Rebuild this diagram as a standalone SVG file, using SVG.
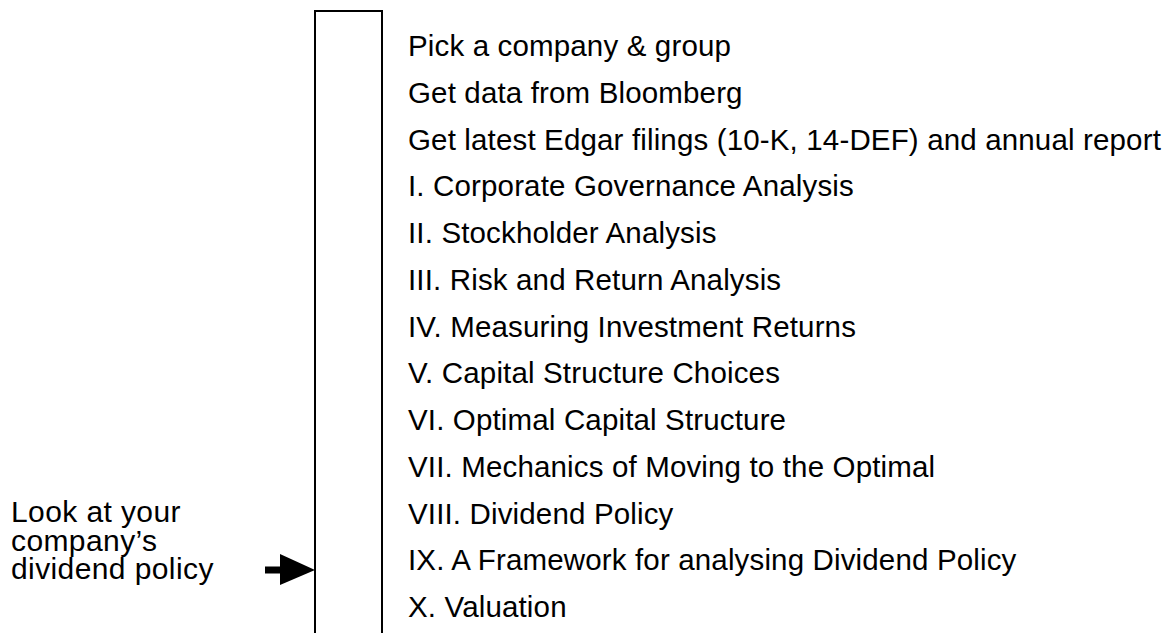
<svg xmlns="http://www.w3.org/2000/svg" width="1169" height="633" viewBox="0 0 1169 633">
<style>
.t{font-family:"Liberation Sans",Arial,Helvetica,sans-serif;font-size:29.5px;letter-spacing:0.15px;fill:#000}
.n{font-family:"Liberation Sans",Arial,Helvetica,sans-serif;font-size:30px;letter-spacing:0.4px;fill:#000}
.box{fill:none;stroke:#000;stroke-width:2}
</style>
<rect width="1169" height="633" fill="#fff"/>
<g id="bar"><path class="box" d="M315,640 V11 H382 V640"/></g>
<g id="steps">
<text class="t" x="408" y="56">Pick a company &amp; group</text>
<text class="t" x="408" y="102.75">Get data from Bloomberg</text>
<text class="t" x="408" y="149.5">Get latest Edgar filings (10-K, 14-DEF) and annual report</text>
<text class="t" x="408" y="196.25">I. Corporate Governance Analysis</text>
<text class="t" x="408" y="243">II. Stockholder Analysis</text>
<text class="t" x="408" y="289.75">III. Risk and Return Analysis</text>
<text class="t" x="408" y="336.5">IV. Measuring Investment Returns</text>
<text class="t" x="408" y="383.25">V. Capital Structure Choices</text>
<text class="t" x="408" y="430">VI. Optimal Capital Structure</text>
<text class="t" x="408" y="476.75">VII. Mechanics of Moving to the Optimal</text>
<text class="t" x="408" y="523.5">VIII. Dividend Policy</text>
<text class="t" x="408" y="570.25">IX. A Framework for analysing Dividend Policy</text>
<text class="t" x="408" y="617">X. Valuation</text>
</g>
<g id="note">
<text class="n" x="11" y="522">Look at your</text>
<text class="n" x="11" y="551">company’s</text>
<text class="n" x="11" y="579">dividend policy</text>
</g>
<g id="connectors">
<rect x="265" y="566.5" width="16" height="7" fill="#000"/>
<polygon points="280,554 315,570 280,585" fill="#000"/>
</g>
</svg>
